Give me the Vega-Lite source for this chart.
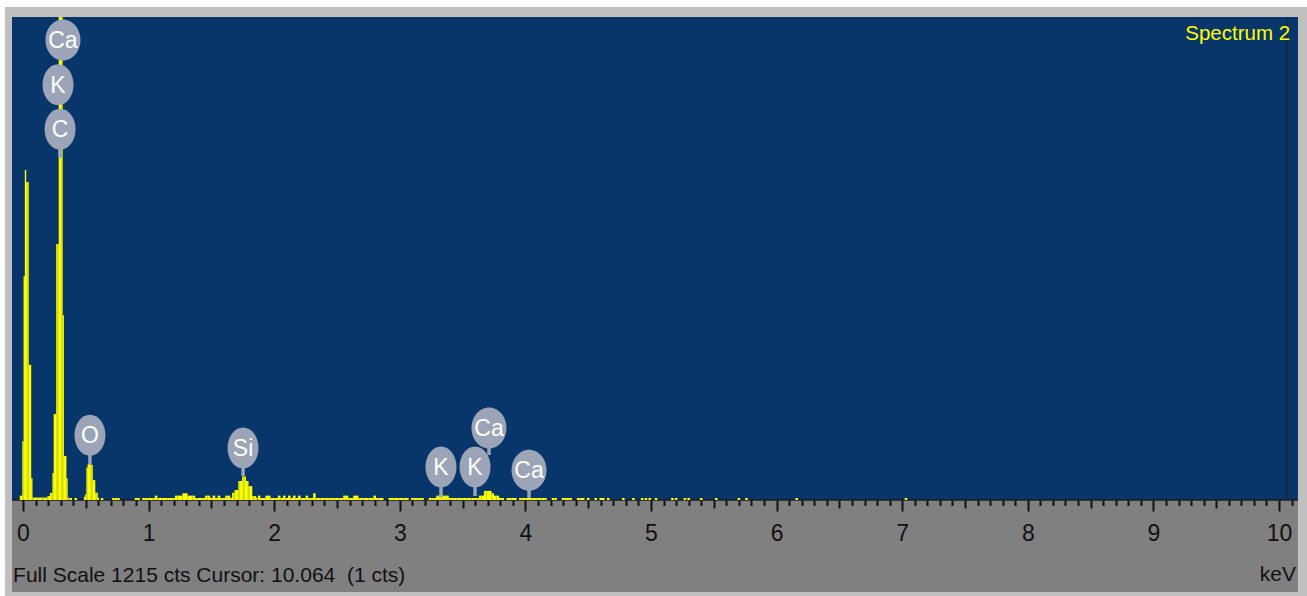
{
  "$schema": "https://vega.github.io/schema/vega-lite/v6.json",
  "width": 1302,
  "height": 589,
  "autosize": {"type": "none"},
  "padding": {"left": 5, "top": 7, "right": 0, "bottom": 0},
  "background": "#ffffff",
  "config": {
    "view": {"fill": "#c0c0c0", "stroke": null},
    "font": "Liberation Sans, Arial, sans-serif"
  },
  "datasets": {
    "one": [{"k": 1}],
    "peaks": [
      {"e": -0.02, "c": 11}, {"e": -0.01, "c": 11}, {"e": 0.00, "c": 148}, {"e": 0.01, "c": 563},
      {"e": 0.02, "c": 830}, {"e": 0.03, "c": 800}, {"e": 0.04, "c": 800}, {"e": 0.05, "c": 340},
      {"e": 0.06, "c": 340}, {"e": 0.07, "c": 55}, {"e": 0.08, "c": 6}, {"e": 0.09, "c": 6},
      {"e": 0.10, "c": 6}, {"e": 0.11, "c": 6}, {"e": 0.12, "c": 6}, {"e": 0.13, "c": 6},
      {"e": 0.14, "c": 6}, {"e": 0.15, "c": 6}, {"e": 0.16, "c": 6}, {"e": 0.17, "c": 6},
      {"e": 0.18, "c": 6}, {"e": 0.19, "c": 6}, {"e": 0.20, "c": 10}, {"e": 0.21, "c": 10},
      {"e": 0.22, "c": 18}, {"e": 0.23, "c": 18}, {"e": 0.24, "c": 68}, {"e": 0.25, "c": 216},
      {"e": 0.26, "c": 216}, {"e": 0.27, "c": 644}, {"e": 0.28, "c": 644}, {"e": 0.29, "c": 1215},
      {"e": 0.30, "c": 1215}, {"e": 0.31, "c": 1215}, {"e": 0.32, "c": 465}, {"e": 0.33, "c": 111},
      {"e": 0.34, "c": 111}, {"e": 0.35, "c": 55}, {"e": 0.36, "c": 6},
      {"e": 0.49, "c": 8}, {"e": 0.50, "c": 14}, {"e": 0.51, "c": 82}, {"e": 0.52, "c": 90},
      {"e": 0.53, "c": 90}, {"e": 0.54, "c": 90}, {"e": 0.55, "c": 88}, {"e": 0.56, "c": 50},
      {"e": 0.57, "c": 50}, {"e": 0.58, "c": 18}, {"e": 0.59, "c": 18}, {"e": 0.60, "c": 6},
      {"e": 1.67, "c": 18}, {"e": 1.68, "c": 18}, {"e": 1.69, "c": 25}, {"e": 1.70, "c": 25},
      {"e": 1.71, "c": 25}, {"e": 1.72, "c": 48}, {"e": 1.73, "c": 48}, {"e": 1.74, "c": 48},
      {"e": 1.75, "c": 59}, {"e": 1.76, "c": 59}, {"e": 1.77, "c": 59}, {"e": 1.78, "c": 48},
      {"e": 1.79, "c": 48}, {"e": 1.80, "c": 35}, {"e": 1.81, "c": 35}, {"e": 1.82, "c": 35},
      {"e": 1.83, "c": 10}, {"e": 1.84, "c": 10}, {"e": 1.85, "c": 10}, {"e": 1.86, "c": 6}
    ],
    "noise": [
      {"e": 0.38, "c": 5}, {"e": 0.42, "c": 5}, {"e": 0.63, "c": 5}, {"e": 0.72, "c": 5},
      {"e": 0.74, "c": 5}, {"e": 0.76, "c": 5}, {"e": 0.90, "c": 5}, {"e": 0.92, "c": 5},
      {"e": 0.96, "c": 5}, {"e": 0.98, "c": 5}, {"e": 1.00, "c": 5}, {"e": 1.02, "c": 5},
      {"e": 1.04, "c": 5}, {"e": 1.06, "c": 11}, {"e": 1.08, "c": 5}, {"e": 1.10, "c": 5},
      {"e": 1.12, "c": 5}, {"e": 1.14, "c": 5}, {"e": 1.16, "c": 5}, {"e": 1.18, "c": 5},
      {"e": 1.20, "c": 5}, {"e": 1.22, "c": 11}, {"e": 1.24, "c": 11}, {"e": 1.26, "c": 11},
      {"e": 1.28, "c": 17}, {"e": 1.30, "c": 17}, {"e": 1.32, "c": 11}, {"e": 1.34, "c": 11},
      {"e": 1.36, "c": 11}, {"e": 1.38, "c": 5}, {"e": 1.40, "c": 5}, {"e": 1.42, "c": 5},
      {"e": 1.44, "c": 5}, {"e": 1.46, "c": 11}, {"e": 1.48, "c": 11}, {"e": 1.50, "c": 5},
      {"e": 1.52, "c": 11}, {"e": 1.54, "c": 5}, {"e": 1.56, "c": 11}, {"e": 1.58, "c": 5},
      {"e": 1.60, "c": 5}, {"e": 1.62, "c": 11}, {"e": 1.64, "c": 11}, {"e": 1.66, "c": 5},
      {"e": 1.88, "c": 11}, {"e": 1.90, "c": 5}, {"e": 1.92, "c": 5}, {"e": 1.94, "c": 11},
      {"e": 1.96, "c": 11}, {"e": 1.98, "c": 5}, {"e": 2.00, "c": 5}, {"e": 2.02, "c": 5},
      {"e": 2.04, "c": 11}, {"e": 2.06, "c": 5}, {"e": 2.08, "c": 11}, {"e": 2.10, "c": 5},
      {"e": 2.12, "c": 11}, {"e": 2.14, "c": 5}, {"e": 2.16, "c": 11}, {"e": 2.18, "c": 5},
      {"e": 2.20, "c": 11}, {"e": 2.22, "c": 5}, {"e": 2.24, "c": 5}, {"e": 2.26, "c": 11},
      {"e": 2.28, "c": 5}, {"e": 2.30, "c": 5}, {"e": 2.32, "c": 17}, {"e": 2.34, "c": 5},
      {"e": 2.36, "c": 5}, {"e": 2.38, "c": 5}, {"e": 2.40, "c": 5}, {"e": 2.42, "c": 5},
      {"e": 2.44, "c": 5}, {"e": 2.46, "c": 5}, {"e": 2.48, "c": 5}, {"e": 2.50, "c": 5},
      {"e": 2.52, "c": 5}, {"e": 2.54, "c": 5}, {"e": 2.56, "c": 11}, {"e": 2.58, "c": 11},
      {"e": 2.60, "c": 5}, {"e": 2.62, "c": 5}, {"e": 2.64, "c": 11}, {"e": 2.66, "c": 11},
      {"e": 2.68, "c": 5}, {"e": 2.70, "c": 5}, {"e": 2.72, "c": 5}, {"e": 2.74, "c": 5},
      {"e": 2.76, "c": 5}, {"e": 2.78, "c": 5}, {"e": 2.80, "c": 11}, {"e": 2.82, "c": 5},
      {"e": 2.84, "c": 5}, {"e": 2.86, "c": 5}, {"e": 2.92, "c": 5}, {"e": 2.94, "c": 5},
      {"e": 2.96, "c": 5}, {"e": 2.98, "c": 5}, {"e": 3.00, "c": 5}, {"e": 3.02, "c": 5},
      {"e": 3.04, "c": 5}, {"e": 3.06, "c": 5}, {"e": 3.10, "c": 5}, {"e": 3.12, "c": 5},
      {"e": 3.14, "c": 5}, {"e": 3.16, "c": 5}, {"e": 3.18, "c": 5}, {"e": 3.24, "c": 5},
      {"e": 3.26, "c": 5}, {"e": 3.28, "c": 5}, {"e": 3.30, "c": 11}, {"e": 3.32, "c": 11},
      {"e": 3.34, "c": 11}, {"e": 3.36, "c": 11}, {"e": 3.38, "c": 11}, {"e": 3.40, "c": 5},
      {"e": 3.42, "c": 5}, {"e": 3.44, "c": 5}, {"e": 3.46, "c": 5}, {"e": 3.48, "c": 5},
      {"e": 3.50, "c": 5}, {"e": 3.52, "c": 5}, {"e": 3.54, "c": 5}, {"e": 3.56, "c": 5},
      {"e": 3.58, "c": 5}, {"e": 3.60, "c": 5}, {"e": 3.62, "c": 5}, {"e": 3.64, "c": 11},
      {"e": 3.66, "c": 11}, {"e": 3.68, "c": 23}, {"e": 3.70, "c": 23}, {"e": 3.72, "c": 23},
      {"e": 3.74, "c": 17}, {"e": 3.76, "c": 11}, {"e": 3.78, "c": 11}, {"e": 3.80, "c": 5},
      {"e": 3.82, "c": 5}, {"e": 3.86, "c": 5}, {"e": 3.88, "c": 5}, {"e": 3.90, "c": 5},
      {"e": 3.92, "c": 5}, {"e": 3.96, "c": 5}, {"e": 3.98, "c": 5}, {"e": 4.00, "c": 5},
      {"e": 4.02, "c": 5}, {"e": 4.04, "c": 5}, {"e": 4.06, "c": 5}, {"e": 4.08, "c": 5},
      {"e": 4.10, "c": 5}, {"e": 4.12, "c": 5}, {"e": 4.14, "c": 5}, {"e": 4.16, "c": 5},
      {"e": 4.22, "c": 5}, {"e": 4.24, "c": 5}, {"e": 4.30, "c": 5}, {"e": 4.32, "c": 5},
      {"e": 4.34, "c": 5}, {"e": 4.36, "c": 5}, {"e": 4.42, "c": 5}, {"e": 4.44, "c": 5},
      {"e": 4.46, "c": 5}, {"e": 4.50, "c": 5}, {"e": 4.56, "c": 5}, {"e": 4.60, "c": 5},
      {"e": 4.62, "c": 5}, {"e": 4.66, "c": 5}, {"e": 4.78, "c": 5}, {"e": 4.86, "c": 5},
      {"e": 4.93, "c": 5}, {"e": 4.96, "c": 5}, {"e": 4.99, "c": 5}, {"e": 5.04, "c": 5},
      {"e": 5.17, "c": 5}, {"e": 5.20, "c": 5}, {"e": 5.27, "c": 5}, {"e": 5.30, "c": 5},
      {"e": 5.40, "c": 5}, {"e": 5.52, "c": 5}, {"e": 5.70, "c": 5}, {"e": 5.76, "c": 5},
      {"e": 6.16, "c": 5}, {"e": 7.03, "c": 5}
    ],
    "labels": [
      {"el": "Ca", "e": 0.318, "c": 1157, "tip": 1157},
      {"el": "K", "e": 0.279, "c": 1045, "tip": 1045},
      {"el": "C", "e": 0.295, "c": 933, "tip": 861},
      {"el": "O", "e": 0.533, "c": 163, "tip": 90},
      {"el": "Si", "e": 1.752, "c": 131, "tip": 60},
      {"el": "K", "e": 3.328, "c": 83, "tip": 7},
      {"el": "K", "e": 3.599, "c": 83, "tip": 10},
      {"el": "Ca", "e": 3.71, "c": 181, "tip": 113},
      {"el": "Ca", "e": 4.029, "c": 75, "tip": 5}
    ]
  },
  "resolve": {"axis": {"x": "independent"}},
  "layer": [
    {
      "data": {"name": "one"},
      "mark": {"type": "rect", "color": "#08356a"},
      "encoding": {
        "x": {"datum": -0.0876, "type": "quantitative",
              "scale": {"domain": [-0.1433, 10.2229], "nice": false, "zero": false, "padding": 0},
              "axis": {
                "orient": "bottom", "offset": -96, "zindex": 2, "grid": false, "title": null,
                "domain": false, "labels": false,
                "values": [0.1,0.2,0.3,0.4,0.6,0.7,0.8,0.9,1.1,1.2,1.3,1.4,1.6,1.7,1.8,1.9,2.1,2.2,2.3,2.4,2.6,2.7,2.8,2.9,3.1,3.2,3.3,3.4,3.6,3.7,3.8,3.9,4.1,4.2,4.3,4.4,4.6,4.7,4.8,4.9,5.1,5.2,5.3,5.4,5.6,5.7,5.8,5.9,6.1,6.2,6.3,6.4,6.6,6.7,6.8,6.9,7.1,7.2,7.3,7.4,7.6,7.7,7.8,7.9,8.1,8.2,8.3,8.4,8.6,8.7,8.8,8.9,9.1,9.2,9.3,9.4,9.6,9.7,9.8,9.9,10.1],
                "tickColor": "#111111", "tickWidth": 2, "tickSize": 5.5
              }},
        "x2": {"datum": 10.151},
        "y": {"datum": 0, "type": "quantitative", "axis": null,
              "scale": {"domain": [-241.5, 1240.3], "nice": false, "zero": false, "padding": 0}},
        "y2": {"datum": 1215}
      }
    },
    {
      "data": {"name": "one"},
      "mark": {"type": "rect", "color": "#808080"},
      "encoding": {
        "x": {"datum": -0.0876, "type": "quantitative", "axis": null},
        "x2": {"datum": 10.151},
        "y": {"datum": -231.4, "type": "quantitative", "axis": null},
        "y2": {"datum": 0}
      }
    },
    {
      "data": {"name": "one"},
      "mark": {"type": "rule", "color": "#1b2535", "strokeWidth": 1},
      "encoding": {
        "x": {"datum": 10.064, "type": "quantitative",
              "axis": {
                "orient": "bottom", "offset": -96, "zindex": 2, "grid": false, "title": null,
                "domain": false, "labels": false,
                "values": [0.5,1.5,2.5,3.5,4.5,5.5,6.5,7.5,8.5,9.5],
                "tickColor": "#111111", "tickWidth": 2, "tickSize": 8
              }},
        "y": {"datum": 0, "type": "quantitative", "axis": null},
        "y2": {"datum": 1215}
      }
    },
    {
      "data": {"name": "one"},
      "mark": {"type": "rule", "color": "#1e1e1e", "strokeWidth": 1.5},
      "encoding": {
        "x": {"datum": -0.0876, "type": "quantitative", "axis": null},
        "x2": {"datum": 10.151},
        "y": {"datum": 0, "type": "quantitative", "axis": null}
      }
    },
    {
      "data": {"name": "noise"},
      "mark": {"type": "bar", "orient": "vertical", "width": 2.6, "color": "#ffff00"},
      "encoding": {
        "x": {"field": "e", "type": "quantitative",
              "axis": {
                "orient": "bottom", "offset": -96, "zindex": 2, "grid": false, "title": null,
                "domain": false,
                "values": [0,1,2,3,4,5,6,7,8,9,10],
                "tickColor": "#111111", "tickWidth": 2, "tickSize": 11,
                "labelFontSize": 23, "labelColor": "#111111", "labelPadding": 11,
                "labelOverlap": false, "labelFlush": false, "labelBound": false
              }},
        "y": {"field": "c", "type": "quantitative", "axis": null, "stack": null}
      }
    },
    {
      "data": {"name": "peaks"},
      "mark": {"type": "bar", "orient": "vertical", "width": 1.4, "color": "#ffff00"},
      "encoding": {
        "x": {"field": "e", "type": "quantitative", "axis": null},
        "y": {"field": "c", "type": "quantitative", "axis": null, "stack": null}
      }
    },
    {
      "data": {"name": "labels"},
      "mark": {"type": "rule", "color": "#9ba5b7", "strokeWidth": 3.5},
      "encoding": {
        "x": {"field": "e", "type": "quantitative", "axis": null},
        "y": {"field": "c", "type": "quantitative", "axis": null},
        "y2": {"field": "tip"}
      }
    },
    {
      "data": {"name": "labels"},
      "mark": {"type": "point", "filled": true, "opacity": 1, "color": "#9ba5b7", "size": 1681, "strokeWidth": 0},
      "encoding": {
        "x": {"field": "e", "type": "quantitative", "axis": null},
        "y": {"field": "c", "type": "quantitative", "axis": null},
        "shape": {"field": "el", "type": "nominal", "legend": null,
          "scale": {"domain": ["Ca", "K", "C", "O", "Si"],
                    "range": ["M0,-1C0.4717,-1,0.854,-0.5523,0.854,0C0.854,0.5523,0.4717,1,0,1C-0.4717,1,-0.854,0.5523,-0.854,0C-0.854,-0.5523,-0.4717,-1,0,-1Z",
                              "M0,-1C0.4175,-1,0.756,-0.5523,0.756,0C0.756,0.5523,0.4175,1,0,1C-0.4175,1,-0.756,0.5523,-0.756,0C-0.756,-0.5523,-0.4175,-1,0,-1Z",
                              "M0,-1C0.4175,-1,0.756,-0.5523,0.756,0C0.756,0.5523,0.4175,1,0,1C-0.4175,1,-0.756,0.5523,-0.756,0C-0.756,-0.5523,-0.4175,-1,0,-1Z",
                              "M0,-1C0.4175,-1,0.756,-0.5523,0.756,0C0.756,0.5523,0.4175,1,0,1C-0.4175,1,-0.756,0.5523,-0.756,0C-0.756,-0.5523,-0.4175,-1,0,-1Z",
                              "M0,-1C0.4175,-1,0.756,-0.5523,0.756,0C0.756,0.5523,0.4175,1,0,1C-0.4175,1,-0.756,0.5523,-0.756,0C-0.756,-0.5523,-0.4175,-1,0,-1Z"]}}
      }
    },
    {
      "data": {"name": "labels"},
      "mark": {"type": "text", "color": "#ffffff", "fontSize": 23, "align": "center", "baseline": "middle", "dy": 1},
      "encoding": {
        "x": {"field": "e", "type": "quantitative", "axis": null},
        "y": {"field": "c", "type": "quantitative", "axis": null},
        "text": {"field": "el"}
      }
    },
    {
      "data": {"name": "one"},
      "mark": {"type": "text", "text": "Spectrum 2", "color": "#ffff00", "fontSize": 20.5, "align": "right", "baseline": "alphabetic"},
      "encoding": {
        "x": {"datum": 10.088, "type": "quantitative", "axis": null},
        "y": {"datum": 1158, "type": "quantitative", "axis": null}
      }
    },
    {
      "data": {"name": "one"},
      "mark": {"type": "text", "text": "Full Scale 1215 cts Cursor: 10.064\u00a0 (1 cts)", "color": "#111111", "fontSize": 21, "align": "left", "baseline": "alphabetic"},
      "encoding": {
        "x": {"datum": -0.079, "type": "quantitative", "axis": null},
        "y": {"datum": -206, "type": "quantitative", "axis": null}
      }
    },
    {
      "data": {"name": "one"},
      "mark": {"type": "text", "text": "keV", "color": "#111111", "fontSize": 21, "align": "right", "baseline": "alphabetic"},
      "encoding": {
        "x": {"datum": 10.135, "type": "quantitative", "axis": null},
        "y": {"datum": -203, "type": "quantitative", "axis": null}
      }
    }
  ]
}
